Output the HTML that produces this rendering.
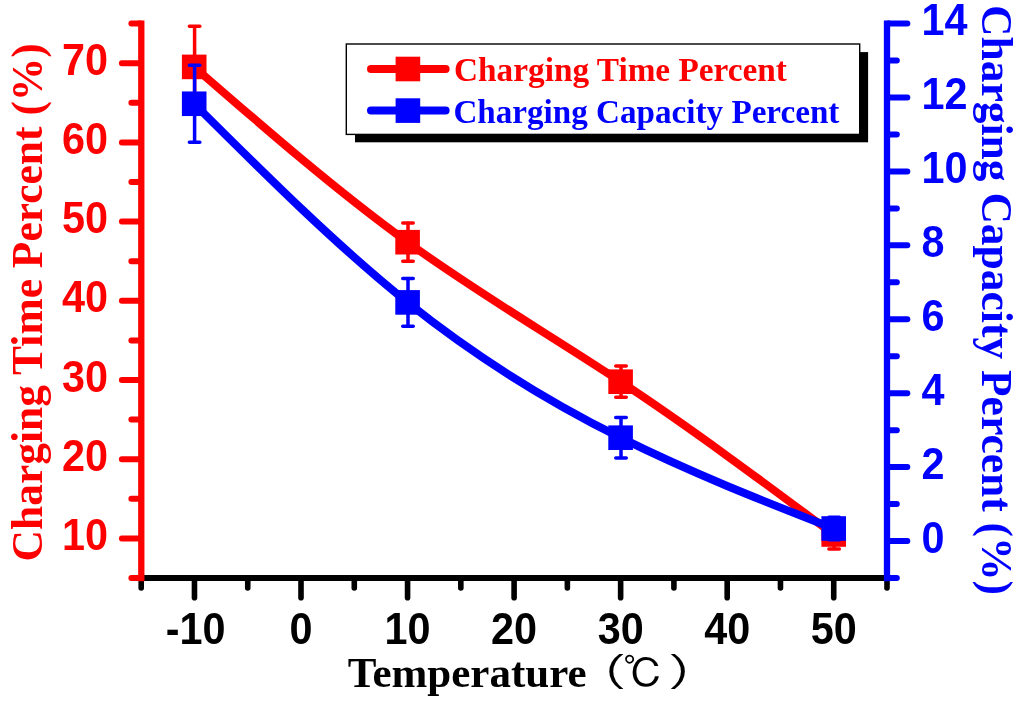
<!DOCTYPE html>
<html lang="en"><head><meta charset="utf-8"><title>Charging percent vs temperature</title>
<style>
html,body{margin:0;padding:0;background:#fff;}
body{width:1024px;height:703px;overflow:hidden;}
svg{display:block;}
svg{will-change:transform;}
.tk{font-family:"Liberation Sans",sans-serif;font-weight:bold;font-size:42px;}
.ti{font-family:"Liberation Serif",serif;font-weight:bold;}
.cj{font-family:"Liberation Serif","IPAGothic",serif;font-weight:normal;}
</style></head><body>
<svg width="1024" height="703" viewBox="0 0 1024 703">
<rect x="0" y="0" width="1024" height="703" fill="#fff"/>
<g stroke="#000000" stroke-width="5.6" stroke-linecap="butt" fill="none">
<line x1="138.20" y1="578.00" x2="890.00" y2="578.00" stroke-width="6.0"/>
<line x1="141.20" y1="578.00" x2="141.20" y2="588.00" stroke-linecap="round"/>
<line x1="194.47" y1="578.00" x2="194.47" y2="597.70" stroke-linecap="round"/>
<line x1="247.74" y1="578.00" x2="247.74" y2="588.00" stroke-linecap="round"/>
<line x1="301.01" y1="578.00" x2="301.01" y2="597.70" stroke-linecap="round"/>
<line x1="354.29" y1="578.00" x2="354.29" y2="588.00" stroke-linecap="round"/>
<line x1="407.56" y1="578.00" x2="407.56" y2="597.70" stroke-linecap="round"/>
<line x1="460.83" y1="578.00" x2="460.83" y2="588.00" stroke-linecap="round"/>
<line x1="514.10" y1="578.00" x2="514.10" y2="597.70" stroke-linecap="round"/>
<line x1="567.37" y1="578.00" x2="567.37" y2="588.00" stroke-linecap="round"/>
<line x1="620.64" y1="578.00" x2="620.64" y2="597.70" stroke-linecap="round"/>
<line x1="673.91" y1="578.00" x2="673.91" y2="588.00" stroke-linecap="round"/>
<line x1="727.19" y1="578.00" x2="727.19" y2="597.70" stroke-linecap="round"/>
<line x1="780.46" y1="578.00" x2="780.46" y2="588.00" stroke-linecap="round"/>
<line x1="833.73" y1="578.00" x2="833.73" y2="597.70" stroke-linecap="round"/>
<line x1="887.00" y1="578.00" x2="887.00" y2="588.00" stroke-linecap="round"/>
</g>
<g stroke="#ff0000" stroke-width="6.0" stroke-linecap="round" fill="none">
<line x1="141.30" y1="23.70" x2="141.30" y2="578.00" stroke-linecap="square" stroke-width="6.3"/>
<line x1="131.40" y1="578.00" x2="140.20" y2="578.00"/>
<line x1="121.90" y1="538.40" x2="140.20" y2="538.40"/>
<line x1="131.40" y1="498.80" x2="140.20" y2="498.80"/>
<line x1="121.90" y1="459.20" x2="140.20" y2="459.20"/>
<line x1="131.40" y1="419.60" x2="140.20" y2="419.60"/>
<line x1="121.90" y1="380.00" x2="140.20" y2="380.00"/>
<line x1="131.40" y1="340.40" x2="140.20" y2="340.40"/>
<line x1="121.90" y1="300.80" x2="140.20" y2="300.80"/>
<line x1="131.40" y1="261.20" x2="140.20" y2="261.20"/>
<line x1="121.90" y1="221.60" x2="140.20" y2="221.60"/>
<line x1="131.40" y1="182.00" x2="140.20" y2="182.00"/>
<line x1="121.90" y1="142.40" x2="140.20" y2="142.40"/>
<line x1="131.40" y1="102.80" x2="140.20" y2="102.80"/>
<line x1="121.90" y1="63.20" x2="140.20" y2="63.20"/>
<line x1="131.40" y1="23.60" x2="140.20" y2="23.60"/>
</g>
<g stroke="#0000ff" stroke-width="6.0" stroke-linecap="round" fill="none">
<line x1="887.00" y1="23.70" x2="887.00" y2="578.00" stroke-linecap="square" stroke-width="6.3"/>
<line x1="888.00" y1="578.00" x2="896.80" y2="578.00"/>
<line x1="888.00" y1="541.04" x2="907.30" y2="541.04"/>
<line x1="888.00" y1="504.08" x2="896.80" y2="504.08"/>
<line x1="888.00" y1="467.12" x2="907.30" y2="467.12"/>
<line x1="888.00" y1="430.16" x2="896.80" y2="430.16"/>
<line x1="888.00" y1="393.20" x2="907.30" y2="393.20"/>
<line x1="888.00" y1="356.24" x2="896.80" y2="356.24"/>
<line x1="888.00" y1="319.28" x2="907.30" y2="319.28"/>
<line x1="888.00" y1="282.32" x2="896.80" y2="282.32"/>
<line x1="888.00" y1="245.36" x2="907.30" y2="245.36"/>
<line x1="888.00" y1="208.40" x2="896.80" y2="208.40"/>
<line x1="888.00" y1="171.44" x2="907.30" y2="171.44"/>
<line x1="888.00" y1="134.48" x2="896.80" y2="134.48"/>
<line x1="888.00" y1="97.52" x2="907.30" y2="97.52"/>
<line x1="888.00" y1="60.56" x2="896.80" y2="60.56"/>
<line x1="888.00" y1="23.60" x2="907.30" y2="23.60"/>
</g>
<g class="tk" fill="#ff0000" text-anchor="end">
<text transform="translate(108.0 550.00) scale(0.985 1.05)">10</text>
<text transform="translate(108.0 470.80) scale(0.985 1.05)">20</text>
<text transform="translate(108.0 391.60) scale(0.985 1.05)">30</text>
<text transform="translate(108.0 312.40) scale(0.985 1.05)">40</text>
<text transform="translate(108.0 233.20) scale(0.985 1.05)">50</text>
<text transform="translate(108.0 154.00) scale(0.985 1.05)">60</text>
<text transform="translate(108.0 74.80) scale(0.985 1.05)">70</text>
</g>
<g class="tk" fill="#0000ff" text-anchor="start">
<text transform="translate(921.6 552.64) scale(0.985 1.05)">0</text>
<text transform="translate(921.6 478.72) scale(0.985 1.05)">2</text>
<text transform="translate(921.6 404.80) scale(0.985 1.05)">4</text>
<text transform="translate(921.6 330.88) scale(0.985 1.05)">6</text>
<text transform="translate(921.6 256.96) scale(0.985 1.05)">8</text>
<text transform="translate(921.6 183.04) scale(0.985 1.05)">10</text>
<text transform="translate(921.6 109.12) scale(0.985 1.05)">12</text>
<text transform="translate(921.6 35.20) scale(0.985 1.05)">14</text>
</g>
<g class="tk" fill="#000000" text-anchor="middle">
<text transform="translate(195.67 643.6) scale(0.985 1.05)">-10</text>
<text transform="translate(301.01 643.6) scale(0.985 1.05)">0</text>
<text transform="translate(407.56 643.6) scale(0.985 1.05)">10</text>
<text transform="translate(514.10 643.6) scale(0.985 1.05)">20</text>
<text transform="translate(620.64 643.6) scale(0.985 1.05)">30</text>
<text transform="translate(727.19 643.6) scale(0.985 1.05)">40</text>
<text transform="translate(833.73 643.6) scale(0.985 1.05)">50</text>
</g>
<text class="ti" font-size="43.5" fill="#ff0000" text-anchor="middle" transform="translate(41.8 302.3) rotate(-90)">Charging Time Percent (%)</text>
<text class="ti" font-size="43.5" fill="#0000ff" text-anchor="middle" transform="translate(982 300.1) rotate(90)">Charging Capacity Percent (%)</text>
<text class="ti" font-size="43" fill="#000000" x="347.7" y="686.5">Temperature</text>
<g class="cj" fill="#000000"><text font-size="39" transform="translate(574.6 685.8) scale(1.35 1)">（</text><text font-size="40.3" x="622.9" y="688.2">℃</text><text font-size="39" transform="translate(666.9 685.8) scale(1.35 1)">）</text></g>
<g stroke="#ff0000" fill="none">
<path d="M194.20 66.90 C265.33 128.79 336.47 190.68 407.60 242.20 C478.60 293.62 549.60 334.72 620.60 381.70 C691.63 428.70 762.67 481.60 833.70 534.50" stroke-width="8.0" stroke-linejoin="round" stroke-linecap="round"/>
<path d="M194.60 26.30V107.50M189.35 26.30H199.85M189.35 107.50H199.85" stroke-width="3.5" stroke-linecap="round"/>
<path d="M408.00 223.10V261.30M402.75 223.10H413.25M402.75 261.30H413.25" stroke-width="3.5" stroke-linecap="round"/>
<path d="M621.00 366.10V397.30M615.75 366.10H626.25M615.75 397.30H626.25" stroke-width="3.5" stroke-linecap="round"/>
<path d="M834.10 519.90V549.10M828.85 519.90H839.35M828.85 549.10H839.35" stroke-width="3.5" stroke-linecap="round"/>
</g>
<g fill="#ff0000">
<rect x="181.90" y="54.60" width="24.6" height="24.6"/>
<rect x="395.30" y="229.90" width="24.6" height="24.6"/>
<rect x="608.30" y="369.40" width="24.6" height="24.6"/>
<rect x="821.40" y="522.20" width="24.6" height="24.6"/>
</g>
<g stroke="#0000ff" fill="none">
<path d="M194.20 103.75 C265.33 174.59 336.47 245.43 407.60 302.40 C478.60 359.27 549.60 402.32 620.60 437.70 C691.63 473.09 762.67 500.80 833.70 528.50" stroke-width="8.0" stroke-linejoin="round" stroke-linecap="round"/>
<path d="M194.60 65.35V142.15M189.35 65.35H199.85M189.35 142.15H199.85" stroke-width="3.5" stroke-linecap="round"/>
<path d="M408.00 278.60V326.20M402.75 278.60H413.25M402.75 326.20H413.25" stroke-width="3.5" stroke-linecap="round"/>
<path d="M621.00 417.40V458.00M615.75 417.40H626.25M615.75 458.00H626.25" stroke-width="3.5" stroke-linecap="round"/>
<path d="M834.10 517.20V539.80M828.85 517.20H839.35M828.85 539.80H839.35" stroke-width="3.5" stroke-linecap="round"/>
</g>
<g fill="#0000ff">
<rect x="181.90" y="91.45" width="24.6" height="24.6"/>
<rect x="395.30" y="290.10" width="24.6" height="24.6"/>
<rect x="608.30" y="425.40" width="24.6" height="24.6"/>
<rect x="821.40" y="516.20" width="24.6" height="24.6"/>
</g>
<rect x="355.0" y="52.1" width="513.1" height="90.2" fill="#000"/>
<rect x="346.3" y="44.0" width="513.4" height="90.4" fill="#fff" stroke="#000" stroke-width="1.4"/>
<line x1="371" y1="69.00" x2="445.6" y2="69.00" stroke="#ff0000" stroke-width="8.0" stroke-linecap="round"/>
<rect x="395.60" y="56.70" width="24.6" height="24.6" fill="#ff0000"/>
<text class="ti" font-size="33.30" fill="#ff0000" x="454.0" y="81.10">Charging Time Percent</text>
<line x1="371" y1="110.60" x2="445.6" y2="110.60" stroke="#0000ff" stroke-width="8.0" stroke-linecap="round"/>
<rect x="395.60" y="98.30" width="24.6" height="24.6" fill="#0000ff"/>
<text class="ti" font-size="33.15" fill="#0000ff" x="453.4" y="122.80">Charging Capacity Percent</text>
</svg></body></html>
